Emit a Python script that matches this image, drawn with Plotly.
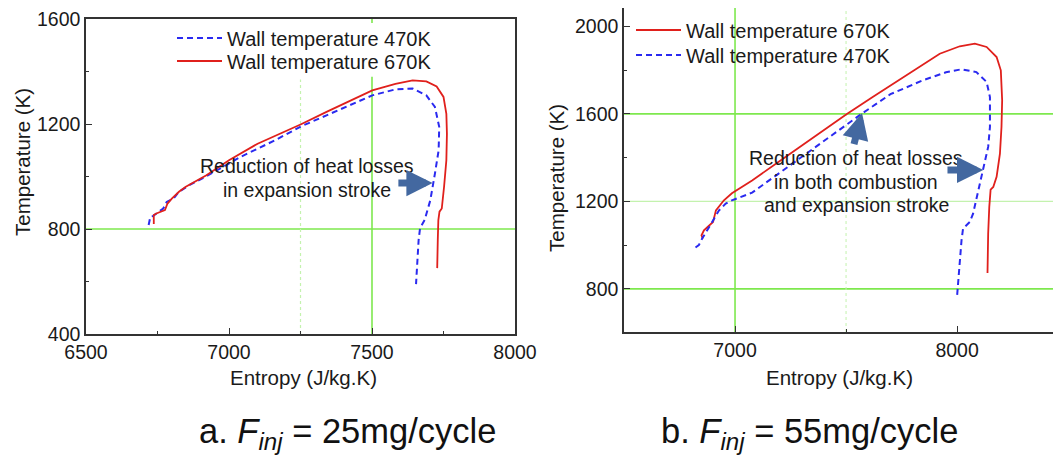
import plotly.graph_objects as go

# ---------------- data ----------------
# Panel a: F_inj = 25 mg/cycle
a_470_entropy = [6719, 6725, 6734, 6746, 6770, 6782, 6806, 6825, 6861, 6921, 7041, 7161, 7252, 7341,
                 7501, 7582, 7642, 7690, 7720, 7735, 7733, 7720, 7704, 7684, 7668, 7663, 7657, 7654]
a_470_temp = [815, 847, 849, 859, 878, 903, 916, 942, 967, 1001, 1075, 1138, 1191, 1233,
              1309, 1332, 1335, 1309, 1265, 1189, 1100, 1011, 910, 834, 803, 758, 670, 590]
a_670_entropy = [6737, 6737, 6746, 6776, 6785, 6800, 6825, 6849, 6921, 7000, 7100, 7252, 7341, 7501,
                 7582, 7642, 7690, 7726, 7750, 7760, 7762, 7760, 7752, 7744, 7736, 7732, 7730, 7728]
a_670_temp = [819, 853, 859, 872, 897, 916, 942, 961, 1005, 1062, 1125, 1199, 1246, 1328,
              1353, 1366, 1362, 1343, 1303, 1239, 1163, 1062, 961, 878, 866, 834, 758, 651]

# Panel b: F_inj = 55 mg/cycle
b_670_entropy = [6855, 6849, 6860, 6883, 6901, 6914, 6950, 6986, 7077, 7200, 7319, 7502, 7620, 7771,
                 7922, 8012, 8080, 8133, 8178, 8197, 8203, 8200, 8193, 8178, 8163, 8151, 8145, 8140, 8137]
b_670_temp = [1030, 1045, 1068, 1091, 1106, 1159, 1205, 1237, 1296, 1383, 1468, 1598, 1677, 1776,
              1875, 1909, 1921, 1906, 1860, 1799, 1662, 1540, 1418, 1312, 1266, 1254, 1175, 1053, 873]
b_470_entropy = [6822, 6837, 6852, 6867, 6883, 6905, 6928, 6958, 6986, 7077, 7200, 7300, 7450, 7574,
                 7700, 7845, 7950, 8020, 8087, 8133, 8148, 8148, 8140, 8117, 8095, 8072, 8057, 8027,
                 8020, 8009, 8000]
b_470_temp = [989, 1000, 1030, 1053, 1082, 1120, 1159, 1190, 1205, 1240, 1330, 1405, 1515, 1603,
              1690, 1753, 1790, 1804, 1791, 1746, 1677, 1540, 1449, 1342, 1251, 1144, 1106, 1076,
              1022, 901, 767]

# tick labels
a_xticks = [6500, 7000, 7500, 8000]
a_yticks = [400, 800, 1200, 1600]
b_xticks = [7000, 8000]
b_yticks = [800, 1200, 1600, 2000]

# texts
legend_470 = "Wall temperature 470K"
legend_670 = "Wall temperature 670K"
a_note = ["Reduction of heat losses", "in expansion stroke"]
b_note = ["Reduction of heat losses", "in both combustion", "and expansion stroke"]
caption_a = "a. <i>F</i><sub><i>inj</i></sub> = 25mg/cycle"
caption_b = "b. <i>F</i><sub><i>inj</i></sub> = 55mg/cycle"
x_title = "Entropy (J/kg.K)"
y_title = "Temperature (K)"

# ---------------- styling ----------------
OFF = 8                      # page body margin of the html page
W, H = 1061 - OFF, 458 - OFF
FONT = "Liberation Sans, Arial, sans-serif"
TXT = "#1a1a1a"
RED = "#e0201c"
BLUE = "#2a2af0"
GREEN = "#7ee84e"
LGREEN = "#c4f2ae"
ARROW = "#4368a0"
AXC = "#333333"


def px_x(p):
    return (p - OFF) / W


def px_y(p):
    return 1 - (p - OFF) / H


fig = go.Figure()

fig.add_trace(go.Scatter(x=a_470_entropy, y=a_470_temp, mode="lines", name=legend_470,
                         line=dict(color=BLUE, width=2, dash="6px,4px"),
                         xaxis="x", yaxis="y", legend="legend"))
fig.add_trace(go.Scatter(x=a_670_entropy, y=a_670_temp, mode="lines", name=legend_670,
                         line=dict(color=RED, width=1.8),
                         xaxis="x", yaxis="y", legend="legend3"))
fig.add_trace(go.Scatter(x=b_670_entropy, y=b_670_temp, mode="lines", name=legend_670,
                         line=dict(color=RED, width=1.8),
                         xaxis="x2", yaxis="y2", legend="legend2"))
fig.add_trace(go.Scatter(x=b_470_entropy, y=b_470_temp, mode="lines", name=legend_470,
                         line=dict(color=BLUE, width=2, dash="6px,4px"),
                         xaxis="x2", yaxis="y2", legend="legend4"))

tickfont = dict(family=FONT, size=19.5, color=TXT)
common_axis = dict(showline=True, linecolor=AXC, linewidth=1.5, ticks="inside", ticklen=6,
                   tickcolor=AXC, tickwidth=1.3, showgrid=False, zeroline=False,
                   tickfont=tickfont, automargin=False, ticklabeloverflow="allow")

legfont = dict(family=FONT, size=20, color=TXT)


def leg(xpx, ypx):
    return dict(x=px_x(xpx), y=px_y(ypx), xanchor="left", yanchor="middle",
                bgcolor="rgba(0,0,0,0)", borderwidth=0, font=legfont,
                itemwidth=45, tracegroupgap=0)


fig.update_layout(
    width=W, height=H, margin=dict(l=0, r=0, t=0, b=0, pad=0), autosize=False,
    paper_bgcolor="white", plot_bgcolor="white",
    font=dict(family=FONT, color=TXT),
    xaxis=dict(domain=[px_x(86), px_x(515)], range=[6500, 8000], anchor="y", mirror=True,
               tickvals=a_xticks, ticktext=[str(v) for v in a_xticks],
               minor=dict(ticks="inside", ticklen=3.5, tickcolor=AXC, dtick=250, showgrid=False),
               **common_axis),
    yaxis=dict(domain=[px_y(334), px_y(19)], range=[400, 1600], anchor="x", mirror=True,
               tickvals=a_yticks, ticktext=[str(v) for v in a_yticks],
               minor=dict(ticks="inside", ticklen=3.5, tickcolor=AXC, dtick=200, showgrid=False),
               **common_axis),
    xaxis2=dict(domain=[px_x(624), 1.0], range=[6500, 8468], anchor="y2", mirror=True,
                tickvals=b_xticks, ticktext=[str(v) for v in b_xticks],
                minor=dict(ticks="inside", ticklen=3.5, tickcolor=AXC, dtick=500, showgrid=False),
                **common_axis),
    yaxis2=dict(domain=[px_y(332), px_y(8)], range=[603, 2084],
                anchor="x2", mirror=False,
                tickvals=b_yticks, ticktext=[str(v) for v in b_yticks],
                minor=dict(ticks="inside", ticklen=3.5, tickcolor=AXC, dtick=200, showgrid=False),
                **common_axis),
    legend=leg(172, 38),
    legend3=leg(172, 61),
    legend2=leg(631, 30),
    legend4=leg(631, 55),
    showlegend=True,
)

# partial grid lines (green), drawn below the curves
shapes = []
def vline(xr, yr, x, y0, y1, color, width, dash="solid"):
    shapes.append(dict(type="line", xref=xr, yref=yr, x0=x, x1=x, y0=y0, y1=y1,
                       line=dict(color=color, width=width, dash=dash), layer="below"))

def hline(xr, yr, y, x0, x1, color, width, dash="solid"):
    shapes.append(dict(type="line", xref=xr, yref=yr, x0=x0, x1=x1, y0=y, y1=y,
                       line=dict(color=color, width=width, dash=dash), layer="below"))

# panel a: legend box hides part of the vertical lines
hline("x", "y", 800, 6500, 8000, GREEN, 1.6)
vline("x", "y", 7500, 400, 1380, GREEN, 1.6)
vline("x", "y", 7500, 1585, 1600, GREEN, 1.6)
vline("x", "y", 7250, 400, 1370, LGREEN, 1.2, "dot")
# panel b
hline("x2", "y2", 800, 6500, 8468, GREEN, 1.6)
hline("x2", "y2", 1200, 6500, 8468, LGREEN, 1.3)
hline("x2", "y2", 1600, 6500, 8468, GREEN, 1.6)
vline("x2", "y2", 7000, 603, 2084, GREEN, 1.6)
vline("x2", "y2", 7500, 603, 2084, LGREEN, 1.0, "dot")
fig.update_layout(shapes=shapes)

ann = []
notefont = dict(family=FONT, size=19.5, color=TXT)
# panel a note
for txt, yv in zip(a_note, [1040, 948]):
    ann.append(dict(x=7272, y=yv, xref="x", yref="y", text=txt, showarrow=False,
                    font=notefont, xanchor="center", yanchor="middle"))
# panel b note
for txt, yv in zip(b_note, [1399, 1289, 1184]):
    ann.append(dict(x=7545, y=yv, xref="x2", yref="y2", text=txt, showarrow=False,
                    font=notefont, xanchor="center", yanchor="middle"))

# block arrows
def arrow(xr, yr, x, y, ax, ay):
    ann.append(dict(x=x, y=y, ax=ax, ay=ay, xref=xr, yref=yr, axref=xr, ayref=yr,
                    text="", showarrow=True, arrowhead=2, arrowsize=0.75, arrowwidth=7,
                    arrowcolor=ARROW, standoff=0, startstandoff=0))

arrow("x", "y", 7712, 975, 7587, 975)
arrow("x2", "y2", 8118, 1344, 7950, 1344)
arrow("x2", "y2", 7572, 1604, 7534, 1455)

# axis titles
titlefont = dict(family=FONT, size=20.5, color=TXT)
ann.append(dict(x=px_x(303), y=px_y(377), xref="paper", yref="paper", text=x_title,
                showarrow=False, font=titlefont, xanchor="center", yanchor="middle"))
ann.append(dict(x=px_x(839), y=px_y(377), xref="paper", yref="paper", text=x_title,
                showarrow=False, font=titlefont, xanchor="center", yanchor="middle"))
ann.append(dict(x=px_x(22), y=px_y(162), xref="paper", yref="paper", text=y_title,
                showarrow=False, font=titlefont, textangle=-90, xanchor="center", yanchor="middle"))
ann.append(dict(x=px_x(556), y=px_y(178), xref="paper", yref="paper", text=y_title,
                showarrow=False, font=titlefont, textangle=-90, xanchor="center", yanchor="middle"))

# captions
capfont = dict(family=FONT, size=34.5, color="#111111")
ann.append(dict(x=px_x(347), y=px_y(433), xref="paper", yref="paper", text=caption_a,
                showarrow=False, font=capfont, xanchor="center", yanchor="middle"))
ann.append(dict(x=px_x(809), y=px_y(433), xref="paper", yref="paper", text=caption_b,
                showarrow=False, font=capfont, xanchor="center", yanchor="middle"))

fig.update_layout(annotations=ann)

fig.write_html("out.html")
